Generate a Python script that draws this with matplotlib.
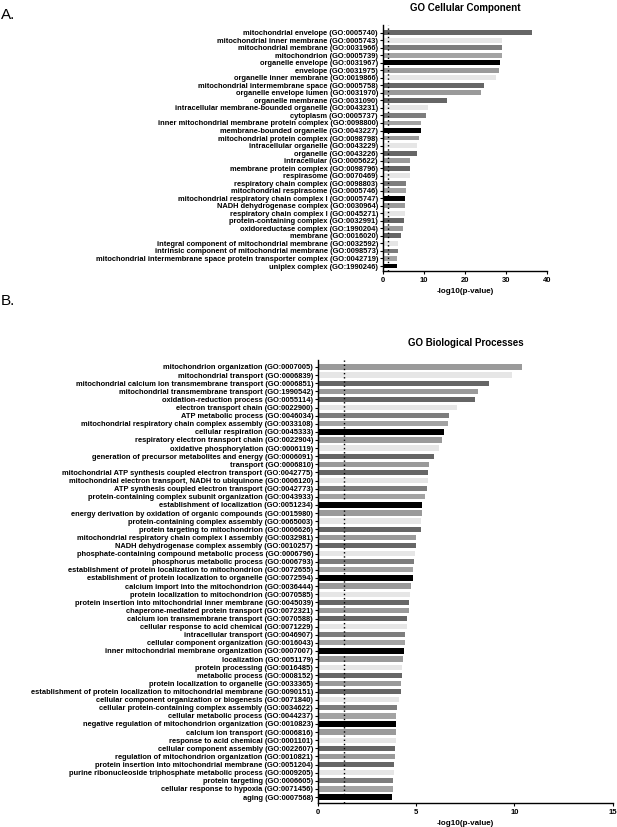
"""GO enrichment bar charts (cellular component / biological process)
"""

import matplotlib
matplotlib.use('Agg')
import matplotlib.pyplot as plt

plt.rcParams['font.family'] = ['Liberation Sans', 'DejaVu Sans']
plt.rcParams['font.weight'] = 'bold'

cc_terms = [
    'mitochondrial envelope (GO:0005740)',
    'mitochondrial inner membrane (GO:0005743)',
    'mitochondrial membrane (GO:0031966)',
    'mitochondrion (GO:0005739)',
    'organelle envelope (GO:0031967)',
    'envelope (GO:0031975)',
    'organelle inner membrane (GO:0019866)',
    'mitochondrial intermembrane space (GO:0005758)',
    'organelle envelope lumen (GO:0031970)',
    'organelle membrane (GO:0031090)',
    'intracellular membrane-bounded organelle (GO:0043231)',
    'cytoplasm (GO:0005737)',
    'inner mitochondrial membrane protein complex (GO:0098800)',
    'membrane-bounded organelle (GO:0043227)',
    'mitochondrial protein complex (GO:0098798)',
    'intracellular organelle (GO:0043229)',
    'organelle (GO:0043226)',
    'intracellular (GO:0005622)',
    'membrane protein complex (GO:0098796)',
    'respirasome (GO:0070469)',
    'respiratory chain complex (GO:0098803)',
    'mitochondrial respirasome (GO:0005746)',
    'mitochondrial respiratory chain complex I (GO:0005747)',
    'NADH dehydrogenase complex (GO:0030964)',
    'respiratory chain complex I (GO:0045271)',
    'protein-containing complex (GO:0032991)',
    'oxidoreductase complex (GO:1990204)',
    'membrane (GO:0016020)',
    'integral component of mitochondrial membrane (GO:0032592)',
    'intrinsic component of mitochondrial membrane (GO:0098573)',
    'mitochondrial intermembrane space protein transporter complex (GO:0042719)',
    'uniplex complex (GO:1990246)',
]
cc_values = [
    36.5, 29.2, 29.2, 29.1, 28.5, 28.4, 27.7, 24.7, 24.0, 15.7,
    10.9, 10.4, 9.4, 9.3, 8.8, 8.3, 8.2, 6.7, 6.6, 6.5,
    5.7, 5.6, 5.5, 5.5, 5.5, 5.2, 4.9, 4.3, 3.6, 3.6,
    3.5, 3.5,
]

bp_terms = [
    'mitochondrion organization (GO:0007005)',
    'mitochondrial transport (GO:0006839)',
    'mitochondrial calcium ion transmembrane transport (GO:0006851)',
    'mitochondrial transmembrane transport (GO:1990542)',
    'oxidation-reduction process (GO:0055114)',
    'electron transport chain (GO:0022900)',
    'ATP metabolic process (GO:0046034)',
    'mitochondrial respiratory chain complex assembly (GO:0033108)',
    'cellular respiration (GO:0045333)',
    'respiratory electron transport chain (GO:0022904)',
    'oxidative phosphorylation (GO:0006119)',
    'generation of precursor metabolites and energy (GO:0006091)',
    'transport (GO:0006810)',
    'mitochondrial ATP synthesis coupled electron transport (GO:0042775)',
    'mitochondrial electron transport, NADH to ubiquinone (GO:0006120)',
    'ATP synthesis coupled electron transport (GO:0042773)',
    'protein-containing complex subunit organization (GO:0043933)',
    'establishment of localization (GO:0051234)',
    'energy derivation by oxidation of organic compounds (GO:0015980)',
    'protein-containing complex assembly (GO:0065003)',
    'protein targeting to mitochondrion (GO:0006626)',
    'mitochondrial respiratory chain complex I assembly (GO:0032981)',
    'NADH dehydrogenase complex assembly (GO:0010257)',
    'phosphate-containing compound metabolic process (GO:0006796)',
    'phosphorus metabolic process (GO:0006793)',
    'establishment of protein localization to mitochondrion (GO:0072655)',
    'establishment of protein localization to organelle (GO:0072594)',
    'calcium import into the mitochondrion (GO:0036444)',
    'protein localization to mitochondrion (GO:0070585)',
    'protein insertion into mitochondrial inner membrane (GO:0045039)',
    'chaperone-mediated protein transport (GO:0072321)',
    'calcium ion transmembrane transport (GO:0070588)',
    'cellular response to acid chemical (GO:0071229)',
    'intracellular transport (GO:0046907)',
    'cellular component organization (GO:0016043)',
    'inner mitochondrial membrane organization (GO:0007007)',
    'localization (GO:0051179)',
    'protein processing (GO:0016485)',
    'metabolic process (GO:0008152)',
    'protein localization to organelle (GO:0033365)',
    'establishment of protein localization to mitochondrial membrane (GO:0090151)',
    'cellular component organization or biogenesis (GO:0071840)',
    'cellular protein-containing complex assembly (GO:0034622)',
    'cellular metabolic process (GO:0044237)',
    'negative regulation of mitochondrion organization (GO:0010823)',
    'calcium ion transport (GO:0006816)',
    'response to acid chemical (GO:0001101)',
    'cellular component assembly (GO:0022607)',
    'regulation of mitochondrion organization (GO:0010821)',
    'protein insertion into mitochondrial membrane (GO:0051204)',
    'purine ribonucleoside triphosphate metabolic process (GO:0009205)',
    'protein targeting (GO:0006605)',
    'cellular response to hypoxia (GO:0071456)',
    'aging (GO:0007568)',
]
bp_values = [
    10.40, 9.88, 8.71, 8.16, 8.01, 7.08, 6.69, 6.62, 6.40, 6.33,
    6.18, 5.91, 5.65, 5.60, 5.60, 5.57, 5.45, 5.29, 5.28, 5.26,
    5.24, 4.99, 4.99, 4.94, 4.87, 4.85, 4.82, 4.75, 4.67, 4.65,
    4.65, 4.55, 4.53, 4.43, 4.43, 4.36, 4.31, 4.29, 4.29, 4.23,
    4.23, 4.11, 4.02, 3.99, 3.99, 3.97, 3.97, 3.90, 3.90, 3.85,
    3.85, 3.84, 3.84, 3.75,
]

# significance threshold, -log10(0.05)
threshold = 1.301

# grey cycle used for the bars (repeats every 9 bars)
palette = ['#9a9a9a', '#e6e6e6', '#666666', '#9a9a9a', '#666666',
           '#e6e6e6', '#7d7d7d', '#a3a3a3', '#000000']


def plot_go_bars(ax, terms, values, title, xmax, xticks, start, pad_top, pad_bottom):
    """horizontal bars of -log10(p) for a list of GO terms
    """

    n = len(terms)
    ys = list(range(n))
    colors = [palette[(i + start) % len(palette)] for i in ys]
    ax.barh(ys, values, height=0.65, color=colors, zorder=2)
    ax.axvline(threshold, color='black', linestyle=(0, (1, 2)), linewidth=1.0, zorder=3)

    ax.set_yticks(ys)
    ax.set_yticklabels(terms, fontsize=5.4, fontweight='bold')
    ax.set_ylim(n - 1 + pad_bottom, -pad_top)
    ax.set_xlim(0, xmax)
    ax.set_xticks(xticks)
    ax.tick_params(axis='x', labelsize=5.5, length=2.5, width=0.8, pad=2)
    ax.tick_params(axis='y', length=2.5, width=0.8, pad=1)
    for label in ax.get_xticklabels():
        label.set_fontweight('bold')

    for side in ('top', 'right'):
        ax.spines[side].set_visible(False)
    for side in ('left', 'bottom'):
        ax.spines[side].set_linewidth(1.0)

    ax.set_xlabel('-log10(p-value)', fontsize=5.8, fontweight='bold', labelpad=3)
    ax.set_title(title, fontsize=7, fontweight='bold', pad=10)


fig = plt.figure(figsize=(6.17, 8.27), dpi=100)

ax_cc = fig.add_axes([0.6207, 0.6727, 0.2653, 0.2971])
plot_go_bars(ax_cc, cc_terms, cc_values, 'GO Cellular Component',
             40, [0, 10, 20, 30, 40], start=4, pad_top=1.02, pad_bottom=0.62)

ax_bp = fig.add_axes([0.5154, 0.0294, 0.4776, 0.5353])
plot_go_bars(ax_bp, bp_terms, bp_values, 'GO Biological Processes',
             15, [0, 5, 10, 15], start=0, pad_top=0.86, pad_bottom=0.7)

fig.text(0.002, 0.990, 'A.', fontsize=11, fontweight='normal', va='top', ha='left')
fig.text(0.002, 0.645, 'B.', fontsize=11, fontweight='normal', va='top', ha='left')

fig.savefig('out.png', dpi=100)
